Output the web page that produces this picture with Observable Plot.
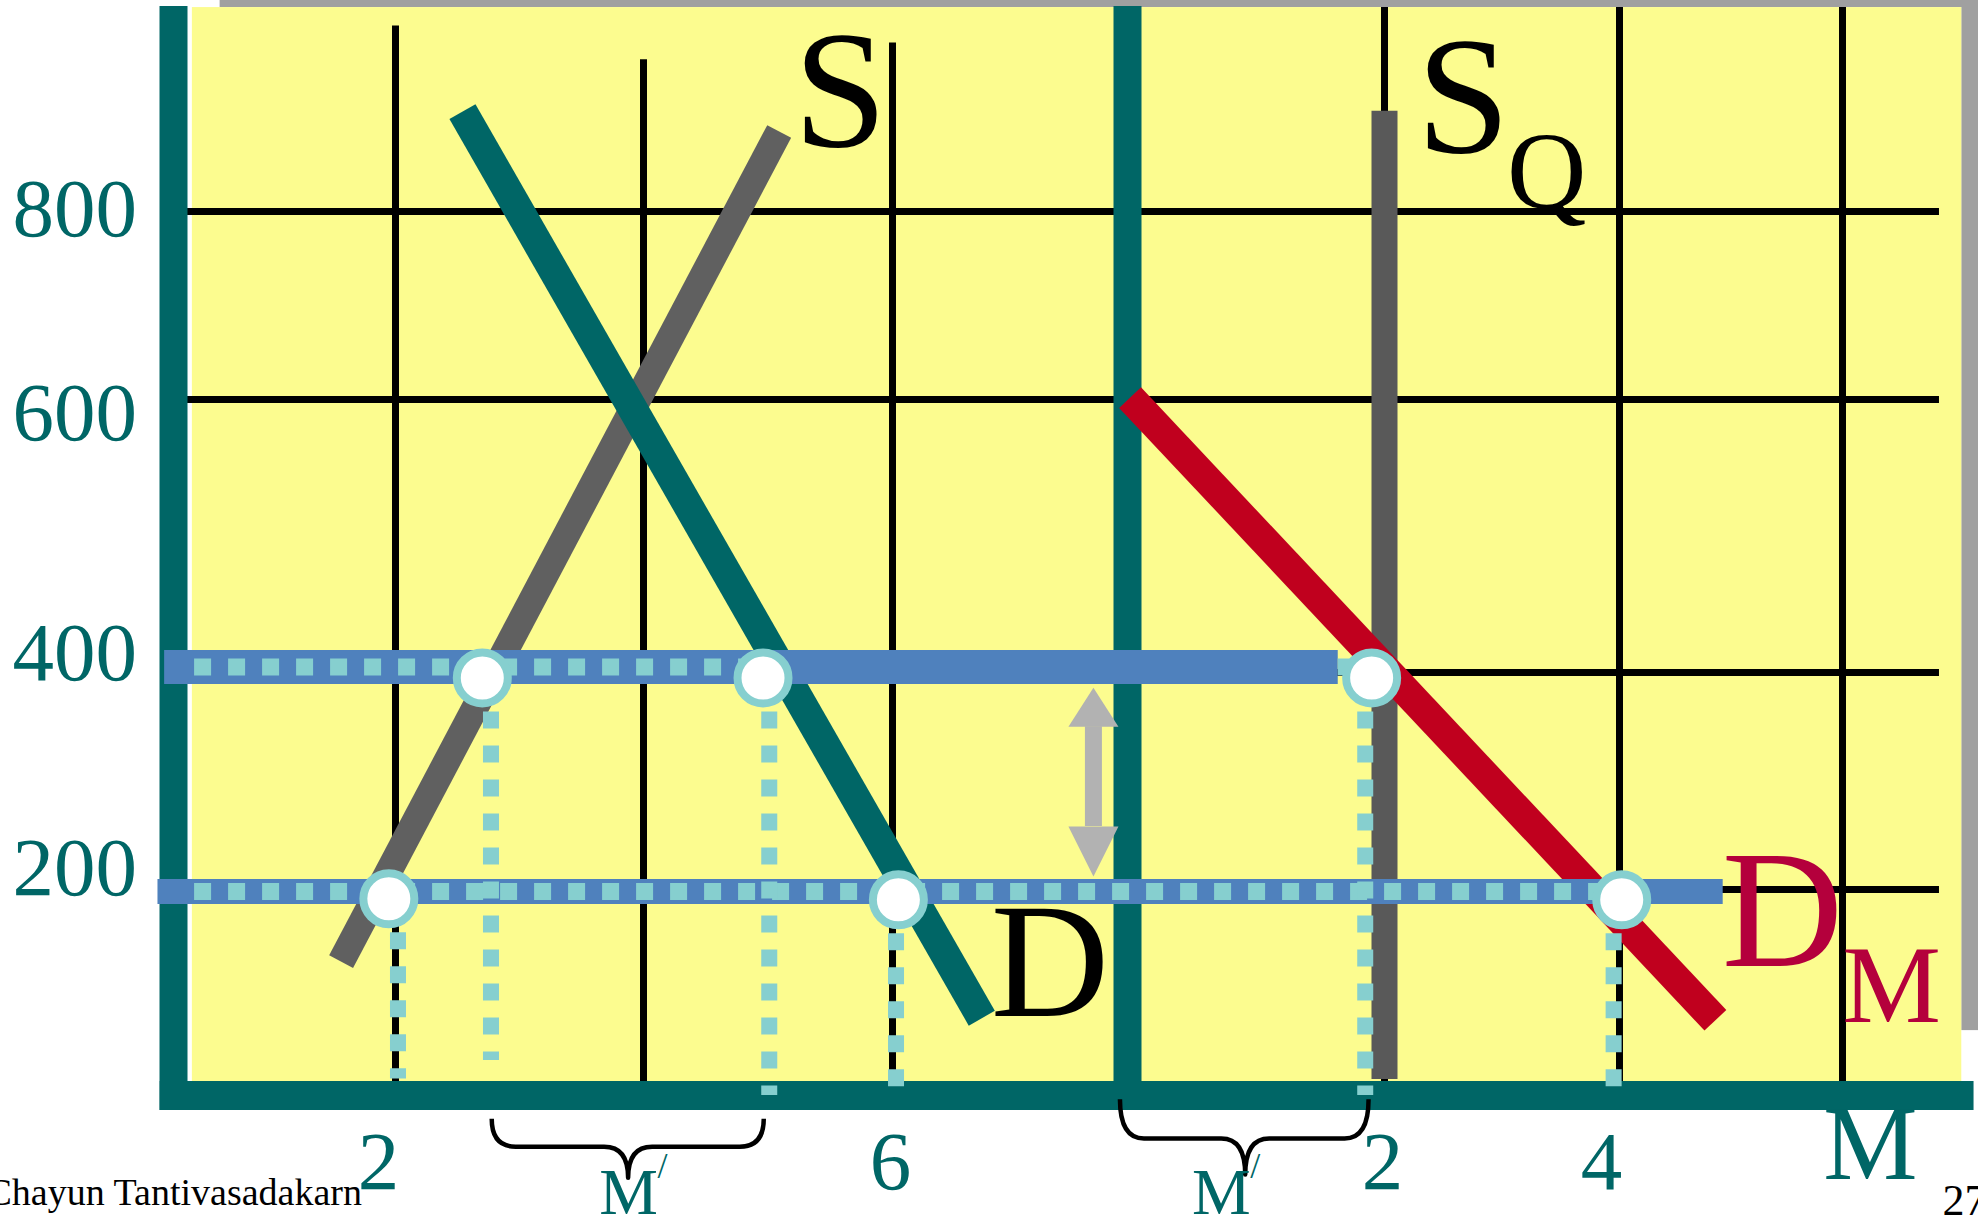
<!DOCTYPE html>
<html>
<head>
<meta charset="utf-8">
<script src="https://cdn.jsdelivr.net/npm/d3@7"></script>
<script src="https://cdn.jsdelivr.net/npm/@observablehq/plot@0.6"></script>
<style>
  html, body { margin: 0; padding: 0; background: #ffffff; overflow: hidden; }
  #chart svg { display: block; }
</style>
</head>
<body>
<div id="chart"></div>
<script>
// ================= DATA =================
// The import market (M) is drawn to the right of the domestic market;
// its origin sits at domestic quantity M0.
const M0 = 8;

// price grid / tick labels
const priceGrid = [200, 400, 600, 800];
const priceTicks = ["200", "400", "600", "800"];
// domestic market quantity grid and tick labels
const qtyGrid = [2, 4, 6];
const qtyGridTop = [997, 961, 979];
const qtyTicks = [2, 6];
// import market grid and tick labels
const mGrid = [2, 4, 6];
const mTicks = [2, 4];

// curves: two end points each (quantity, price)
const sQty = [1.51, 5.09],  sPrice = [130, 885];   // domestic supply S
const dQty = [2.54, 6.76],  dPrice = [906, 75];    // domestic demand D
const sqM  = [2, 2],        sqPrice = [16, 907];   // quota supply S_Q (in M)
const dmM  = [0.02, 4.86],  dmPrice = [602, 73];   // import demand D_M (in M)

// price lines (world price + tariff, world price)
const linePrice = [404, 198];
const lineFrom  = [-0.08, -0.14];   // domestic qty
const lineToM   = [1.64, 4.93];     // in M
const dotFrom   = [0.19, 0.19];
const dotToPoint = [2, 5];          // dotted overlay runs up to this point

// intersection points
const ptPanel = ["Q", "Q", "Q", "Q", "M", "M"];
const ptQty   = [1.94, 2.70, 4.96, 6.05, 1.90, 4.02];
const ptPrice = [191, 395, 395, 190, 395, 190];
// dotted drop lines from the points to the quantity axis
const dropQty    = [2.02, 2.77, 5.01, 6.03, 1.85, 3.95];
const dropBottom = [16, 34, 0, 8, 0, 8];

// double arrow between the two price lines
const arrowQty = 7.71;
const arrowBase = [350, 258];   // upper head base, lower head base

// braces under the quantity axis marking M'
const bracePanel = ["Q", "M"];
const braceFrom = [2.78, -0.06];
const braceTo   = [4.97, 1.88];
const braceMid  = [3.88, 0.92];
const braceTop  = [-23, -4];
const braceBar  = [-50, -42];
const braceTip  = [-80, -77];
const mPrimeQty = [3.88, 0.73];
const mPrimePrice = -115;

// curve labels (quantity, price of baseline)
const labelS  = {text: "S", q: 5.58, p: 870};
const labelSQ = [{text: "S", m: 2.67, p: 863}, {text: "Q", m: 3.38, p: 804}];
const labelD  = {text: "D", q: 7.34, p: 77};
const labelDM = [{text: "D", m: 5.46, p: 126}, {text: "M", m: 6.44, p: 71}];
const labelMAxis = {text: "M", m: 6.25, p: -81};
const tickBaseline = -90;

// ================= STYLE =================
const teal = "#006666";
const cyan = "#86cfcf";
const blue = "#4f81bd";
const serif = "'Liberation Serif', 'Times New Roman', Times, serif";
const priceLabelDy = [-21, -19, 14, -2.5];
const qtyLabelDx = [-17, -2];
const mLabelDx = [-2, -18];
const XM = m => M0 + m;
const xOf = (panel, v) => panel === "M" ? XM(v) : v;

const points = ptQty.map((q, i) => ({x: xOf(ptPanel[i], q), y: ptPrice[i], dx: xOf(ptPanel[i], dropQty[i]), yb: dropBottom[i]}));
const dotTo = dotToPoint.map(k => points[k].x);

const headUp = {draw(ctx) { ctx.moveTo(0, -39); ctx.lineTo(25, 0); ctx.lineTo(-25, 0); ctx.closePath(); }};
const headDown = {draw(ctx) { ctx.moveTo(0, 50); ctx.lineTo(25, 0); ctx.lineTo(-25, 0); ctx.closePath(); }};

function braces(index, scales) {
  const sx = scales.x, sy = scales.y;
  const g = d3.create("svg:g");
  bracePanel.forEach((panel, i) => {
    const x1 = sx(xOf(panel, braceFrom[i])), x2 = sx(xOf(panel, braceTo[i])), xm = sx(xOf(panel, braceMid[i]));
    const yt = sy(braceTop[i]), yb = sy(braceBar[i]), yp = sy(braceTip[i]);
    const r = 24;
    const p = d3.path();
    p.moveTo(x1, yt);
    p.quadraticCurveTo(x1, yb, x1 + r, yb);
    p.lineTo(xm - r, yb);
    p.quadraticCurveTo(xm, yb, xm, yp);
    p.quadraticCurveTo(xm, yb, xm + r, yb);
    p.lineTo(x2 - r, yb);
    p.quadraticCurveTo(x2, yb, x2, yt);
    g.append("path").attr("d", p.toString()).attr("fill", "none")
      .attr("stroke", "#000").attr("stroke-width", 4.5).attr("stroke-linejoin", "round");
  });
  return g.node();
}

const txt = (o) => ({fontFamily: serif, lineAnchor: "bottom", textAnchor: "middle", ...o});

const chart = Plot.plot({
  width: 1978,
  height: 1219,
  margin: 0,
  style: {background: "#ffffff", overflow: "visible"},
  x: {type: "linear", axis: null,
      domain: [-1.56, 0, 2, 4, 6, 8, 10, 12, 14, 15.22],
      range: [0, 173, 395, 643, 892, 1127, 1384, 1619, 1842, 1978]},
  y: {type: "linear", axis: null,
      domain: [-120, 0, 200, 400, 600, 800, 1024],
      range: [1219, 1095, 889, 672, 399, 211, 0]},
  marks: [
    // slide shadow and paper
    Plot.rect([0], {x1: 0.42, x2: 15.22, y1: 1016.5, y2: 1024, fill: "#a0a0a0"}),
    Plot.rect([0], {x1: 15.07, x2: 15.22, y1: 63, y2: 1024, fill: "#a0a0a0"}),
    Plot.rect([0], {x1: 0.17, x2: 15.07, y1: 0, y2: 1016.5, fill: "#fcfc8f"}),
    // grid
    Plot.ruleY(priceGrid, {x1: 0, x2: 14.87, stroke: "#000", strokeWidth: 7}),
    Plot.ruleX(qtyGrid, {y1: -14, y2: (d, i) => qtyGridTop[i], stroke: "#000", strokeWidth: 7}),
    Plot.ruleX(mGrid.map(XM), {y1: -14, y2: 1016.5, stroke: "#000", strokeWidth: 7}),
    // axes
    Plot.ruleX([0, M0], {y1: -14.5, y2: 1017.6, stroke: teal, strokeWidth: 28}),
    Plot.ruleY([0], {x1: -0.12, x2: 15.18, stroke: teal, strokeWidth: 29}),
    // curves
    Plot.line(sQty.map((q, i) => [q, sPrice[i]]), {stroke: "#606060", strokeWidth: 27, strokeLinecap: "butt"}),
    Plot.line(dQty.map((q, i) => [q, dPrice[i]]), {stroke: teal, strokeWidth: 30, strokeLinecap: "butt"}),
    Plot.line(sqM.map((m, i) => [XM(m), sqPrice[i]]), {stroke: "#595959", strokeWidth: 26, strokeLinecap: "butt"}),
    Plot.line(dmM.map((m, i) => [XM(m), dmPrice[i]]), {stroke: "#c0001e", strokeWidth: 30, strokeLinecap: "butt"}),
    // price lines
    Plot.ruleY([linePrice[0]], {x1: lineFrom[0], x2: XM(lineToM[0]), stroke: blue, strokeWidth: 34}),
    Plot.ruleY([linePrice[1]], {x1: lineFrom[1], x2: XM(lineToM[1]), stroke: blue, strokeWidth: 25}),
    Plot.ruleY([linePrice[0]], {x1: XM(lineToM[0]), x2: points[4].x, stroke: cyan, strokeWidth: 17}),
    Plot.ruleY(linePrice, {x1: (d, i) => dotFrom[i], x2: (d, i) => dotTo[i], stroke: cyan, strokeWidth: 17, strokeDasharray: "17,17"}),
    // drops
    Plot.ruleX(points, {x: "dx", y1: "y", y2: "yb", stroke: cyan, strokeWidth: 16, strokeDasharray: "17,17"}),
    // double arrow
    Plot.ruleX([arrowQty], {y1: arrowBase[1], y2: arrowBase[0], stroke: "#b2b2b2", strokeWidth: 17}),
    Plot.dot([arrowBase[0]], {x: arrowQty, y: d => d, symbol: headUp, fill: "#b2b2b2", stroke: "none"}),
    Plot.dot([arrowBase[1]], {x: arrowQty, y: d => d, symbol: headDown, fill: "#b2b2b2", stroke: "none"}),
    // intersection points
    Plot.dot(points, {x: "x", y: "y", r: 25.5, fill: "#ffffff", stroke: cyan, strokeWidth: 8}),
    // braces
    braces,
    // tick labels
    ...priceGrid.map((p, i) => Plot.text([p], {x: -0.33, y: d => d, text: () => priceTicks[i], fontFamily: serif, fontSize: 83, fill: teal, textAnchor: "end", lineAnchor: "middle", dy: priceLabelDy[i]})),
    ...qtyTicks.map((q, i) => Plot.text([q], txt({x: d => d, y: tickBaseline, text: d => String(d), fontSize: 83, fill: teal, dx: qtyLabelDx[i]}))),
    ...mTicks.map((m, i) => Plot.text([m], txt({x: d => XM(d), y: tickBaseline, text: d => String(d), fontSize: 83, fill: teal, dx: mLabelDx[i]}))),
    Plot.text([labelMAxis], txt({x: d => XM(d.m), y: d => d.p, text: "text", fontSize: 106, fill: teal})),
    // M' labels
    Plot.text(bracePanel, txt({x: (d, i) => xOf(d, mPrimeQty[i]), y: mPrimePrice, text: () => "M", fontSize: 66, fill: teal})),
    Plot.text(bracePanel, txt({x: (d, i) => xOf(d, mPrimeQty[i]), y: mPrimePrice, text: () => "/", fontSize: 36, fill: teal, dx: 34, dy: -36})),
    // curve labels
    Plot.text([labelS], txt({x: "q", y: "p", text: "text", fontSize: 168, fill: "#000"})),
    Plot.text(labelSQ.slice(0, 1), txt({x: d => XM(d.m), y: "p", text: "text", fontSize: 168, fill: "#000"})),
    Plot.text(labelSQ.slice(1), txt({x: d => XM(d.m), y: "p", text: "text", fontSize: 110, fill: "#000"})),
    Plot.text([labelD], txt({x: "q", y: "p", text: "text", fontSize: 164, fill: "#000"})),
    Plot.text(labelDM.slice(0, 1), txt({x: d => XM(d.m), y: "p", text: "text", fontSize: 168, fill: "#b4003c"})),
    Plot.text(labelDM.slice(1), txt({x: d => XM(d.m), y: "p", text: "text", fontSize: 111, fill: "#b4003c"})),
    // slide footer
    Plot.text(["Chayun Tantivasadakarn"], {text: d => d, frameAnchor: "bottom-left", textAnchor: "start", lineAnchor: "bottom", dx: -14, dy: -15, fontSize: 38, fill: "#000", fontFamily: serif}),
    Plot.text(["27"], {text: d => d, frameAnchor: "bottom-right", textAnchor: "start", lineAnchor: "bottom", dx: -36, dy: -5, fontSize: 44, fill: "#000", fontFamily: serif})
  ]
});
document.getElementById("chart").appendChild(chart);
</script>
</body>
</html>
